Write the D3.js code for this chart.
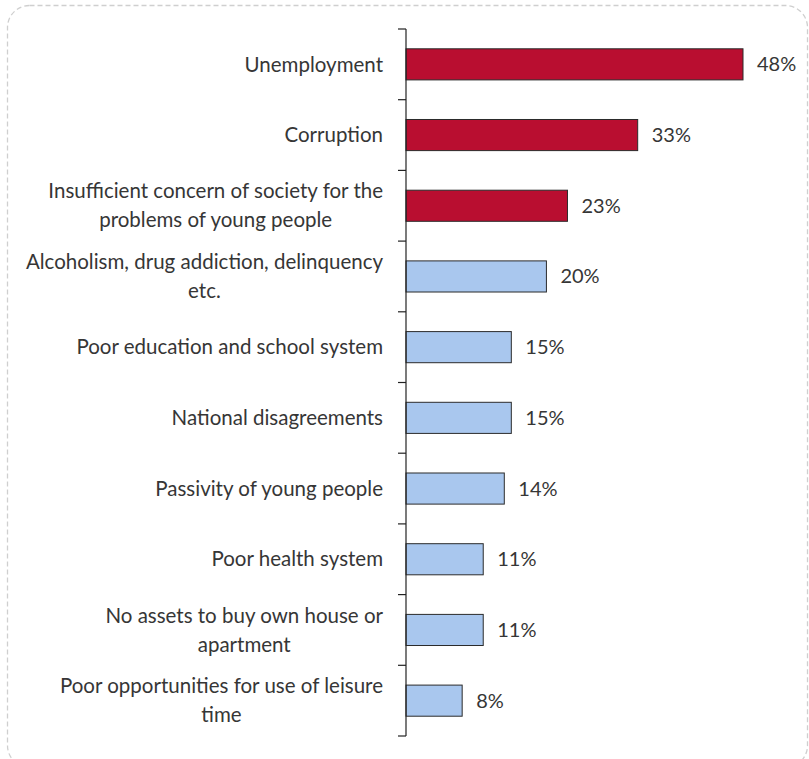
<!DOCTYPE html>
<html>
<head>
<meta charset="utf-8">
<script src="https://cdn.jsdelivr.net/npm/d3@7"></script>
<style>
  html, body { margin: 0; padding: 0; background: #ffffff; }
  svg { display: block; }
</style>
</head>
<body>
<svg id="chart" width="809" height="759"></svg>
<script>
// Problems of young people, share of respondents (%)
const categories = [
  ["Unemployment"],
  ["Corruption"],
  ["Insufficient concern of society for the", "problems of young people"],
  ["Alcoholism, drug addiction, delinquency", "etc."],
  ["Poor education and school system"],
  ["National disagreements"],
  ["Passivity of young people"],
  ["Poor health system"],
  ["No assets to buy own house or", "apartment"],
  ["Poor opportunities for use of leisure", "time"]
];
const values = [48, 33, 23, 20, 15, 15, 14, 11, 11, 8];
const highlighted = [true, true, true, false, false, false, false, false, false, false];

const svg = d3.select("#chart");
const fontFamily = "Lato, 'Open Sans', sans-serif";
const textColor = "#363636";

// Rounded dashed frame around the chart
svg.append("rect")
  .attr("x", 7.5).attr("y", 5.5)
  .attr("width", 800).attr("height", 762)
  .attr("rx", 22).attr("ry", 22)
  .attr("fill", "none")
  .attr("stroke", "#cfcfcf")
  .attr("stroke-width", 1.3)
  .attr("stroke-dasharray", "5,3");

const margin = { left: 406, top: 29, bottom: 736 };
const x = d3.scaleLinear().domain([0, 48]).range([margin.left, 743]);
const y = d3.scaleBand()
  .domain(d3.range(categories.length))
  .range([margin.top, margin.bottom])
  .paddingInner(0.56).paddingOuter(0.28);

// Bars
svg.append("g").selectAll("rect")
  .data(values)
  .join("rect")
  .attr("x", x(0))
  .attr("y", (d, i) => y(i))
  .attr("width", d => x(d) - x(0))
  .attr("height", y.bandwidth())
  .attr("fill", (d, i) => highlighted[i] ? "#B90E30" : "#A9C7EE")
  .attr("stroke", "#2b2b2b")
  .attr("stroke-width", 1);

// Value labels
svg.append("g").selectAll("text")
  .data(values)
  .join("text")
  .attr("x", d => x(d) + 14)
  .attr("y", (d, i) => y(i) + y.bandwidth() / 2)
  .attr("dy", "0.35em")
  .attr("font-family", fontFamily)
  .attr("font-size", 20)
  .attr("fill", textColor)
  .text(d => d + "%");

// Category axis with ticks between bands
const step = (margin.bottom - margin.top) / categories.length;
const axisG = svg.append("g");
axisG.append("line")
  .attr("x1", margin.left).attr("x2", margin.left)
  .attr("y1", margin.top).attr("y2", margin.bottom)
  .attr("stroke", "#222").attr("stroke-width", 1.2);
axisG.selectAll("line.tick")
  .data(d3.range(categories.length + 1))
  .join("line")
  .attr("class", "tick")
  .attr("x1", margin.left - 8).attr("x2", margin.left)
  .attr("y1", i => margin.top + i * step)
  .attr("y2", i => margin.top + i * step)
  .attr("stroke", "#222").attr("stroke-width", 1.2);

// Category labels: each block is right-aligned to the axis, its lines centred within it
const labelRight = 383;
const labels = svg.append("g").selectAll("text")
  .data(categories)
  .join("text")
  .attr("text-anchor", "middle")
  .attr("font-family", fontFamily)
  .attr("font-size", 20.5)
  .attr("fill", textColor)
  .attr("transform", (d, i) => `translate(0, ${y(i) + y.bandwidth() / 2})`);

labels.selectAll("tspan")
  .data(d => d.map((line, j) => ({ line, j, n: d.length })))
  .join("tspan")
  .attr("y", d => (d.j - (d.n - 1) / 2) * 29)
  .attr("dy", "0.35em")
  .text(d => d.line);

labels.each(function () {
  const spans = d3.select(this).selectAll("tspan");
  let maxW = 0;
  spans.each(function () { maxW = Math.max(maxW, this.getComputedTextLength()); });
  spans.attr("x", labelRight - maxW / 2);
});
</script>
</body>
</html>
